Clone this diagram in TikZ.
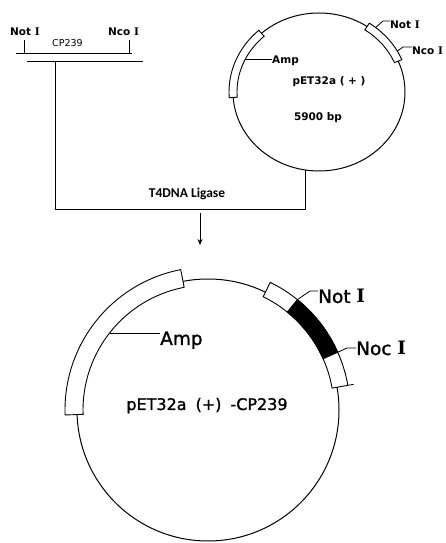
\documentclass[tikz,border=0pt]{standalone}
\usepackage{fontspec}
\setmainfont{DejaVu Sans}
\newfontfamily\rmIfont{DejaVu Serif}
\newfontfamily\heavyfont[FakeBold=1.2]{DejaVu Sans}
\newfontfamily\calfont{Carlito}
\usetikzlibrary{shapes.geometric,arrows.meta}
\newcommand{\RI}{{\rmIfont I}}
\newcommand{\HRI}{{\rmIfont\bfseries I}}
\begin{document}
\begin{tikzpicture}[x=1pt,y=1pt,
  ln/.style={line width=0.8pt},
  ring/.style={draw,line width=1pt,inner sep=0pt},
  seg/.style={draw,fill=white,line width=0.9pt},
  blk/.style={draw,fill=black,line width=0.9pt},
  smlab/.style={inner sep=0pt,font=\bfseries\fontsize{10.5}{12}\selectfont},
  biglab/.style={inner sep=0pt,font=\heavyfont\fontsize{18.5}{20}\selectfont},
  lbl/.style={inner sep=0pt}]
\useasboundingbox (0,0) rectangle (446,543);
\fill[white] (0,0) rectangle (446,543);

% ---------- fragment ----------
\node[smlab,anchor=base west] (nt1) at (10,507) {Not \HRI};
\node[smlab,anchor=base west] (nc1) at (108,507) {Nco \HRI};
\node[lbl,anchor=base west,font=\fontsize{9.5}{11}\selectfont] (cp) at (52,496) {CP239};
\coordinate (t1a) at (24,503); \coordinate (t1b) at (24,490);
\coordinate (t2a) at (129,503); \coordinate (t2b) at (129,490);
\draw[ln] (t1a) -- (t1b);
\draw[ln] (t2a) -- (t2b);
\coordinate (l1a) at (16,490); \coordinate (l1b) at (132,490);
\coordinate (l2a) at (27,482); \coordinate (l2b) at (143,482);
\draw[ln] (l1a) -- (l1b);
\draw[ln] (l2a) -- (l2b);

% ---------- small plasmid ----------
\node[ring,ellipse,minimum width=172pt,minimum height=158pt] (p1) at (319,451) {};
\draw[seg] ([shift={(319,451)}]132:82pt and 75pt) arc[start angle=132,end angle=184,x radius=82pt,y radius=75pt]
  -- ([shift={(319,451)}]184:90pt and 83pt) arc[start angle=184,end angle=132,x radius=90pt,y radius=83pt] -- cycle;
\draw[seg] ([shift={(319,451)}]56:82pt and 75pt) arc[start angle=56,end angle=23,x radius=82pt,y radius=75pt]
  -- ([shift={(319,451)}]23:90pt and 83pt) arc[start angle=23,end angle=56,x radius=90pt,y radius=83pt] -- cycle;
\node[smlab,anchor=base west] (amp1) at (272,479) {Amp};
\coordinate (amp1p) at ([shift={(319,451)}]154:82pt and 75pt);
\draw[ln] (amp1p) -- (amp1p -| amp1.west);
\node[smlab,anchor=base] (pet1) at (329,458) {pET32a ( + )};
\node[smlab,anchor=base] (bp1) at (318,422) {5900 bp};
\node[smlab,anchor=base west] (nt2) at (390,514) {Not \HRI};
\coordinate (nt2p) at ([shift={(319,451)}]51:90pt and 83pt);
\draw[ln] (nt2p) -- (383,522) -- (nt2.west |- 0,522);
\node[smlab,anchor=base west] (nc2) at (412,488) {Nco \HRI};
\coordinate (nc2p) at ([shift={(319,451)}]29.5:90pt and 83pt);
\draw[ln] (nc2p) -- (403,496) -- (nc2.west |- 0,496);

% ---------- ligation ----------
\coordinate (ligL) at (55,334);
\coordinate (ligR) at (p1.260 |- ligL);
\draw[ln] (l2a -| ligL) -- (ligL) -- (ligR) -- (p1.260);
\node[lbl,anchor=base,font=\calfont\bfseries\fontsize{13.5}{15}\selectfont] (lig) at (187,345) {T4DNA Ligase};
\coordinate (arrS) at (200,330);
\coordinate (arrE) at (200,298);
\draw[ln,-{Stealth[length=6pt,width=5pt]}] (arrS) -- (arrE);

% ---------- recombinant plasmid ----------
\node[ring,circle,minimum size=262pt] (p2) at (208,133) {};
\draw[seg] ([shift={(208,133)}]101:125pt) arc[start angle=101,end angle=182,radius=125pt]
  -- ([shift={(208,133)}]182:143pt) arc[start angle=182,end angle=101,radius=143pt] -- cycle;
\draw[seg] ([shift={(208,133)}]64:126pt) arc[start angle=64,end angle=10,radius=126pt]
  -- ([shift={(208,133)}]10:142pt) arc[start angle=10,end angle=64,radius=142pt] -- cycle;
\draw[blk] ([shift={(208,133)}]51:126pt) arc[start angle=51,end angle=24,radius=126pt]
  -- ([shift={(208,133)}]24:142pt) arc[start angle=24,end angle=51,radius=142pt] -- cycle;
\coordinate (tk1) at ([shift={(208,133)}]10:142pt);
\coordinate (tk2) at ([shift={(208,133)}]10:148pt);
\draw[ln] (tk1) -- (tk2);
\node[biglab,anchor=base west] (amp2) at (160,198) {Amp};
\coordinate (amp2p) at ([shift={(208,133)}]142:125pt);
\draw[ln] (amp2p) -- (amp2p -| amp2.west);
\node[biglab,anchor=base west] (nt3) at (318,240) {Not \HRI};
\coordinate (nt3p) at ([shift={(208,133)}]51:142pt);
\draw[ln] (nt3p) -- (310,252) -- (nt3.west |- 0,252);
\node[biglab,anchor=base west] (nc3) at (356,188) {Noc \HRI};
\coordinate (nc3p) at ([shift={(208,133)}]24:142pt);
\draw[ln] (nc3p) -- (347,195) -- (nc3.west |- 0,195);
\node[lbl,anchor=base,font=\heavyfont\fontsize{16}{18}\selectfont] (pet2) at (207,133) {pET32a\hspace{9pt}(+)\hspace{9pt}-CP239};
\end{tikzpicture}
\end{document}
